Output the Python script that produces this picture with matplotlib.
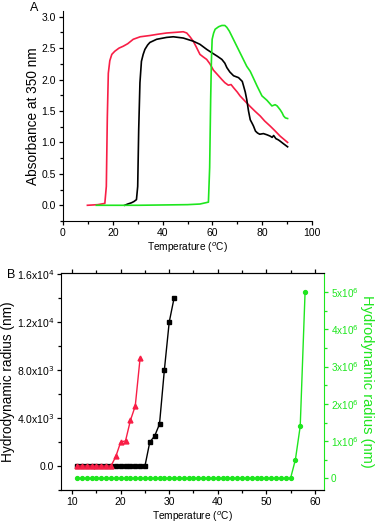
import matplotlib.pyplot as plt
from matplotlib.ticker import MultipleLocator, FixedLocator

plt.rcParams['font.family'] = ['Liberation Sans', 'DejaVu Sans']

RED = '#f81e46'
GREEN = '#1ee61e'

# panel A: absorbance curves
red_t = [9.8, 14, 16.8, 17.4, 17.8, 18.2, 18.8, 19.6, 20.8, 22.5, 24.2, 26, 28.2, 31, 34.9, 38, 41.6, 45,
         48.3, 49.7, 51, 52.3, 53.5, 55, 56.3, 57.7, 59, 60.4, 62, 63.8, 65, 66.4, 67.5, 68.5, 70, 71.1,
         73, 75.2, 77, 79.2, 81, 83.2, 85, 87.2, 88.7, 90.2]
red_a = [0.0, 0.01, 0.03, 0.3, 1.4, 2.1, 2.3, 2.4, 2.45, 2.5, 2.53, 2.57, 2.64, 2.68, 2.70, 2.72, 2.74, 2.75,
         2.76, 2.74, 2.68, 2.61, 2.52, 2.40, 2.36, 2.32, 2.25, 2.15, 2.08, 2.0, 1.95, 1.91, 1.92, 1.87, 1.80, 1.74,
         1.66, 1.57, 1.50, 1.42, 1.34, 1.26, 1.19, 1.10, 1.05, 1.0]
black_t = [24.8, 26, 27.5, 28.5, 29.5, 30, 30.4, 30.9, 31.5, 32.2, 32.9, 34, 34.9, 37.6, 41.6, 44.3, 48.3,
           52.3, 55, 57.7, 60.4, 62, 63.8, 65, 65.8, 67, 68.5, 70.5, 72, 72.5, 73.2, 73.8, 74.5, 75.2, 76,
           76.5, 77.3, 78.1, 79, 80.5, 82, 83.2, 84, 84.6, 85.5, 86.5, 87.2, 88.5, 90.2]
black_a = [0.0, 0.02, 0.04, 0.06, 0.09, 0.3, 1.2, 1.95, 2.29, 2.40, 2.48, 2.55, 2.59, 2.64, 2.67, 2.68, 2.66,
           2.61, 2.56, 2.48, 2.41, 2.37, 2.32, 2.26, 2.19, 2.12, 2.06, 2.03, 1.97, 1.90, 1.80, 1.68, 1.50, 1.36, 1.30,
           1.26, 1.18, 1.15, 1.13, 1.14, 1.12, 1.10, 1.08, 1.11, 1.06, 1.04, 1.02, 0.98, 0.93]
green_t = [13.4, 20, 30, 40, 50, 55, 58.4, 58.9, 59.3, 59.6, 59.9, 60.5, 61.1, 62.5, 63.8, 65, 65.8, 66.8,
           67.8, 69.8, 71.8, 73.8, 75.2, 76.5, 77.9, 79.9, 81.9, 83.9, 85.2, 86, 87.2, 88, 88.6, 89.3, 90.2]
green_a = [0.0, 0.0, 0.0, 0.005, 0.01, 0.02, 0.05, 0.6, 1.68, 2.3, 2.64, 2.74, 2.80, 2.84, 2.86, 2.86, 2.83, 2.77,
           2.69, 2.53, 2.37, 2.21, 2.13, 2.02, 1.90, 1.74, 1.67, 1.58, 1.60, 1.58, 1.52, 1.47, 1.42, 1.39, 1.38]

# panel B: hydrodynamic radius
tri_t = list(range(11, 25))
tri_r = [0, 0, 0, 0, 0, 0, 0, 0, 800, 2000, 2100, 3800, 5000, 9000]
sq_t = list(range(11, 32))
sq_r = [0] * 15 + [2000, 2500, 3500, 8000, 12000, 14000]
circ_t = list(range(11, 59))
circ_r = [0] * 45 + [0.5e6, 1.4e6, 5.0e6]

fig = plt.figure(figsize=(3.76, 5.29), dpi=100)

# ---- A
ax = fig.add_axes([63 / 376, 1 - 221 / 529, 249 / 376, 210 / 529])
ax.plot(red_t, red_a, color=RED, lw=1.2)
ax.plot(black_t, black_a, color='black', lw=1.2)
ax.plot(green_t, green_a, color=GREEN, lw=1.2)
ax.set_xlim(0, 100)
ax.set_ylim(-0.25, 3.09)
ax.spines['top'].set_visible(False)
ax.spines['right'].set_visible(False)
ax.xaxis.set_major_locator(MultipleLocator(20))
ax.xaxis.set_minor_locator(MultipleLocator(10))
ax.yaxis.set_major_locator(MultipleLocator(0.5))
ax.yaxis.set_minor_locator(MultipleLocator(0.25))
ax.tick_params(labelsize=7.5, length=3, width=0.9, pad=2)
ax.tick_params(which='minor', length=2, width=0.9)
ax.set_xlabel(r'Temperature ($^{o}$C)', fontsize=7.3, labelpad=2)
ax.set_ylabel('Absorbance at 350 nm', fontsize=9.8, labelpad=1)
fig.text(30 / 376, 1 - 8 / 529, 'A', fontsize=9, va='center')

# ---- B
bx = fig.add_axes([61 / 376, 1 - 490 / 529, 263 / 376, 217 / 529])
bx.plot(sq_t, sq_r, color='black', marker='s', ms=3, lw=1)
bx.plot(tri_t, tri_r, color=RED, marker='^', ms=3.5, lw=1)
bx.set_xlim(7.7, 61.9)
bx.set_ylim(-2000, 16100)
bx.xaxis.set_major_locator(MultipleLocator(10))
bx.xaxis.set_minor_locator(MultipleLocator(5))
bx.yaxis.set_minor_locator(MultipleLocator(2000))
bx.set_yticks([0, 4000, 8000, 12000, 16000])
bx.set_yticklabels(['0.0', r'4.0x10$^{3}$', r'8.0x10$^{3}$', r'1.2x10$^{4}$', r'1.6x10$^{4}$'])
bx.tick_params(labelsize=7.5, length=3, width=0.9, pad=2)
bx.tick_params(which='minor', length=2, width=0.9)
bx.tick_params(axis='x', top=True, which='both')
bx.set_xlabel(r'Temperature ($^{o}$C)', fontsize=7.3, labelpad=2)
bx.set_ylabel('Hydrodynamic radius (nm)', fontsize=9.8, labelpad=1)
bx.spines['right'].set_visible(False)

rx = bx.twinx()
rx.plot(circ_t, circ_r, color=GREEN, marker='o', ms=2.8, lw=1)
rx.set_ylim(-0.31e6, 5.51e6)
rx.set_yticks([0, 1e6, 2e6, 3e6, 4e6, 5e6])
rx.set_yticklabels(['0'] + [r'%dx10$^{6}$' % i for i in range(1, 6)])
rx.yaxis.set_minor_locator(FixedLocator([0.5e6, 1.5e6, 2.5e6, 3.5e6, 4.5e6]))
rx.tick_params(axis='y', colors=GREEN, labelsize=7.2, length=3, width=0.9, pad=2)
rx.tick_params(axis='y', which='minor', colors=GREEN, length=2, width=0.9)
rx.spines['right'].set_color(GREEN)
rx.spines['left'].set_visible(False)
rx.set_ylabel('Hydrodynamic radius (nm)', fontsize=10.5, color=GREEN, rotation=270, labelpad=11)
fig.text(7 / 376, 1 - 275 / 529, 'B', fontsize=9, va='center')

fig.savefig('out.png', dpi=100)
